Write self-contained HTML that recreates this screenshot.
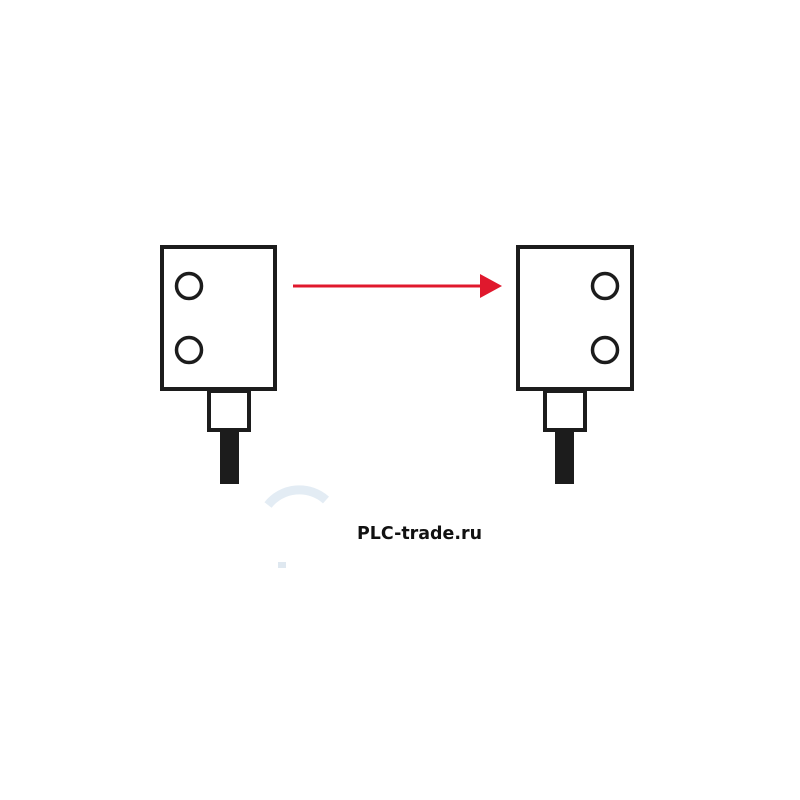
<!DOCTYPE html>
<html><head><meta charset="utf-8"><style>
html,body{margin:0;padding:0;background:#fff;width:800px;height:800px;overflow:hidden}
</style></head><body>
<svg width="800" height="800" viewBox="0 0 800 800" xmlns="http://www.w3.org/2000/svg">
<rect width="800" height="800" fill="#fff"/>
<path d="M268 505 A40 40 0 0 1 326 500" fill="none" stroke="#e3ecf4" stroke-width="9"/>
<rect x="278" y="562" width="8" height="6" fill="#dfe8f0"/>
<g fill="none" stroke="#1c1c1c">
<rect x="162" y="247" width="113" height="142" stroke-width="4"/>
<circle cx="189" cy="286" r="12.5" stroke-width="3.5"/>
<circle cx="189" cy="350" r="12.5" stroke-width="3.5"/>
<rect x="209" y="391" width="40" height="39" stroke-width="4"/>
<rect x="518" y="247" width="114" height="142" stroke-width="4"/>
<circle cx="605" cy="286" r="12.5" stroke-width="3.5"/>
<circle cx="605" cy="350" r="12.5" stroke-width="3.5"/>
<rect x="545" y="391" width="40" height="39" stroke-width="4"/>
</g>
<rect x="220" y="432" width="19" height="52" fill="#1c1c1c"/>
<rect x="555" y="432" width="19" height="52" fill="#1c1c1c"/>
<line x1="293" y1="286" x2="482" y2="286" stroke="#e0182d" stroke-width="3"/>
<polygon points="480,274 502,286 480,298" fill="#e0182d"/>
<text x="357" y="539" textLength="125" lengthAdjust="spacingAndGlyphs" font-family="DejaVu Sans, sans-serif" font-weight="bold" font-size="18" fill="#111">PLC-trade.ru</text>
</svg>
</body></html>
